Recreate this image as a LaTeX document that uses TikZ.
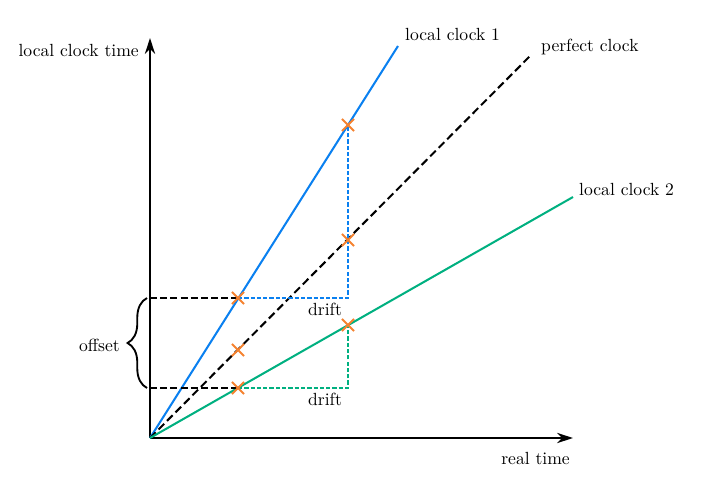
\documentclass[tikz,border=0pt]{standalone}
\usetikzlibrary{arrows.meta,decorations.pathreplacing,shapes.misc}
\definecolor{cblue}{RGB}{10,128,240}
\definecolor{cgreen}{RGB}{0,176,128}
\definecolor{corange}{RGB}{245,130,48}
\begin{document}
\begin{tikzpicture}[x=0.54pt,y=-0.54pt,
  axis/.style={line width=1.3pt,-{Stealth[length=8.6pt,width=5.5pt]}},
  clockline/.style={line width=1.1pt},
  guide/.style={line width=1pt,dash pattern=on 3.8pt off 1.7pt},
  guidefine/.style={line width=1pt,dash pattern=on 2.3pt off 1.1pt},
  xmark/.style={cross out,draw=corange,line width=1pt,minimum size=5.5pt,inner sep=0pt},
  lbl/.style={font=\fontsize{9.5}{11}\selectfont,inner sep=1pt}]
\useasboundingbox (0,0) rectangle (710,495);
% coordinates
\coordinate (O) at (150,438);
\coordinate (Ytop) at (150,38);
\coordinate (Xend) at (573,438);
\coordinate (E1) at (398,46);
\coordinate (EP) at (530,56);
\coordinate (E2) at (573,197);
\coordinate (A1) at (238,298);
\coordinate (AP) at (238,350);
\coordinate (A2) at (238,388);
\coordinate (B1) at (348,125);
\coordinate (BP) at (348,240);
\coordinate (B2) at (348,325);
\coordinate (C1) at (348,298);
\coordinate (C2) at (348,388);
\coordinate (Y1) at (150,298);
\coordinate (Y2) at (150,388);
% axes
\draw[axis] (O) -- (Ytop);
\draw[axis] (O) -- (Xend);
% clocks
\draw[clockline,cblue] (O) -- (E1);
\draw[clockline,black,dash pattern=on 4.3pt off 2.2pt] (O) -- (EP);
\draw[clockline,cgreen] (O) -- (E2);
% guides
\draw[guide,black] (Y1) -- (A1);
\draw[guide,black] (Y2) -- (A2);
\draw[guidefine,cblue] (A1) -- (C1) -- (B1);
\draw[guidefine,cgreen] (A2) -- (C2) -- (B2);
% marks
\foreach \p in {A1,AP,A2,B1,BP,B2} \node[xmark] (m\p) at (\p) {};
% brace
\draw[line width=1pt,decorate,decoration={brace,amplitude=10.5pt}] (147,388) -- (147,298);
% labels
\node[lbl,anchor=east] (tyl) at (141,50) {local clock time};
\node[lbl,anchor=west] (t1) at (403,34) {local clock 1};
\node[lbl,anchor=west] (tp) at (539,47) {perfect clock};
\node[lbl,anchor=west] (t2) at (577,189) {local clock 2};
\node[lbl,anchor=east] (tx) at (572,458) {real time};
\node[lbl] (d1) at (325,309) {drift};
\node[lbl] (d2) at (325,399) {drift};
\node[lbl,anchor=east] (off) at (122,345) {offset};
\end{tikzpicture}
\end{document}
